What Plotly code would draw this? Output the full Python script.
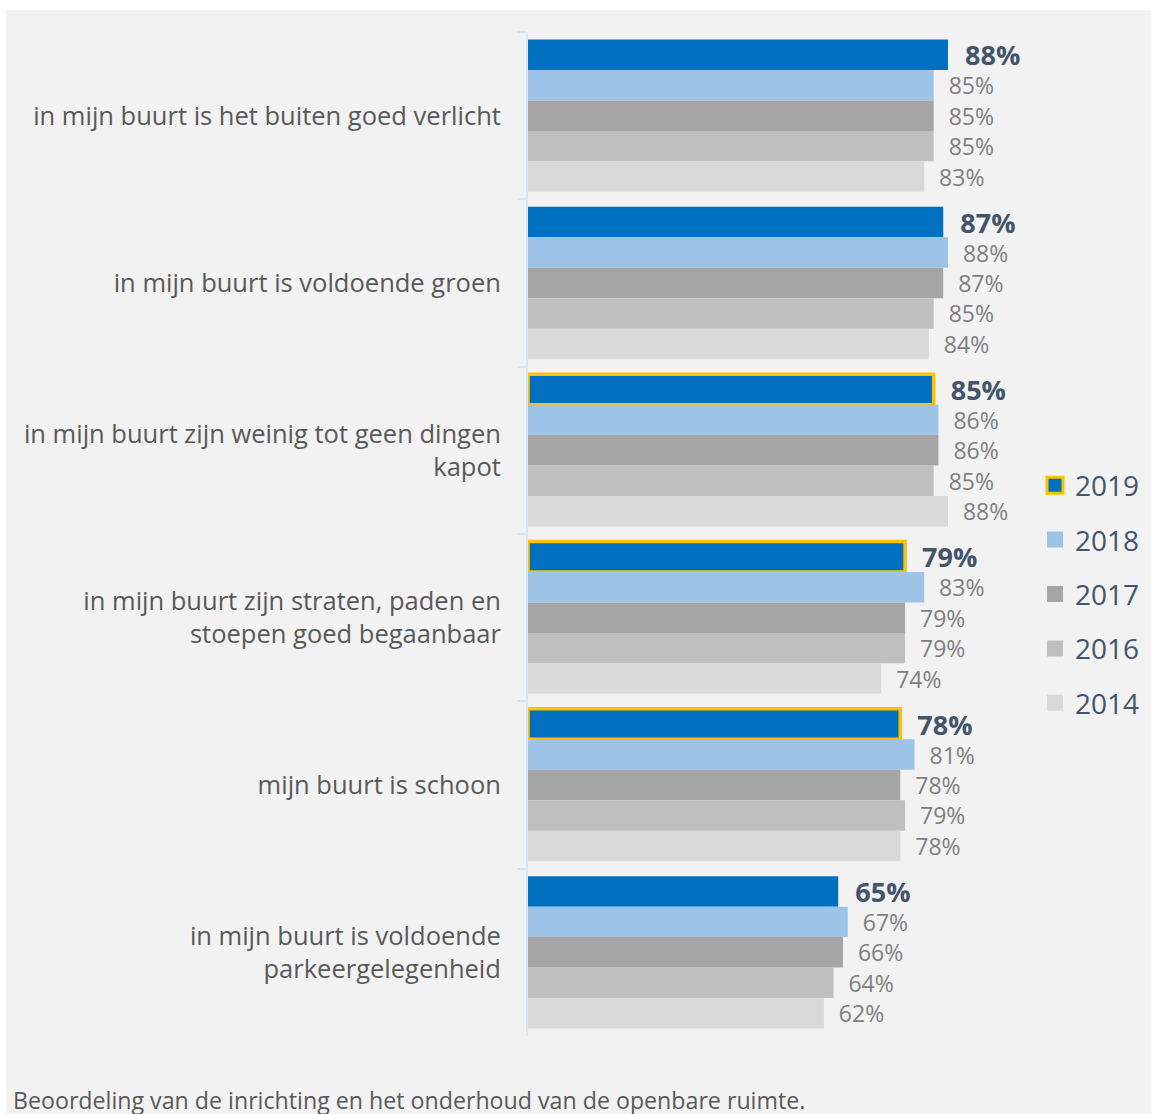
import plotly.graph_objects as go

# Data
categories = [
    "in mijn buurt is het buiten goed verlicht",
    "in mijn buurt is voldoende groen",
    "in mijn buurt zijn weinig tot geen dingen<br>kapot",
    "in mijn buurt zijn straten, paden en<br>stoepen goed begaanbaar",
    "mijn buurt is schoon",
    "in mijn buurt is voldoende<br>parkeergelegenheid",
]
years = ["2019", "2018", "2017", "2016", "2014"]
v2019 = [88, 87, 85, 79, 78, 65]
v2018 = [85, 88, 86, 83, 81, 67]
v2017 = [85, 87, 86, 79, 78, 66]
v2016 = [85, 85, 85, 79, 79, 64]
v2014 = [83, 84, 88, 74, 78, 62]
# 2019 bars that got worse (gold outline)
highlight = [False, False, True, True, True, False]

series = [v2019, v2018, v2017, v2016, v2014]
colors = ["#0070C0", "#9DC3E6", "#A5A5A5", "#BFBFBF", "#D9D9D9"]
GOLD = "#FFC000"

W, H = 1151, 1114
L, R, T, B = 528, 10, 32, 78
pw, ph = W - L - R, H - T - B
px_per_pct = 420 / 88.0
xmax = pw / px_per_pct


def px_x(p):
    return (p - L) / pw


def px_y(p):
    return (H - B - p) / ph


fig = go.Figure()

for i, (yr, vals, col) in enumerate(zip(years, series, colors)):
    if i == 0:
        line = dict(color=[GOLD if h else col for h in highlight],
                    width=[3.5 if h else 0 for h in highlight])
        tfont = dict(family="Open Sans", size=27, color="#44546A", weight="bold")
        tmpl = "\u00a0\u00a0%{x}%"
    else:
        line = dict(width=0)
        tfont = dict(family="Open Sans", size=23, color="#7F7F7F")
        tmpl = "\u00a0\u00a0%{x}%"
    fig.add_trace(go.Bar(
        y=categories, x=vals, orientation="h", name=yr,
        marker=dict(color=col, line=line),
        texttemplate=tmpl, textposition="outside", textfont=tfont,
        constraintext="none", cliponaxis=False,
        showlegend=False, hoverinfo="x+name",
    ))

# legend entries
for i, (yr, col) in enumerate(zip(years, colors)):
    mline = dict(color=GOLD, width=3) if i == 0 else dict(width=0)
    fig.add_trace(go.Scatter(
        x=[None], y=[None], mode="markers", name=yr, legendgroup=yr,
        marker=dict(symbol="square", size=16, color=col, line=mline),
    ))

fig.update_layout(
    width=W, height=H,
    margin=dict(l=L, r=R, t=T, b=B, autoexpand=False),
    paper_bgcolor="white",
    plot_bgcolor="rgba(0,0,0,0)",
    barmode="group", bargap=0.09, bargroupgap=0,
    font=dict(family="Open Sans", color="#595959"),
    xaxis=dict(visible=False, range=[0, xmax]),
    yaxis=dict(
        autorange="reversed", showgrid=False, automargin=False,
        showline=True, linecolor="#DCE3EA", linewidth=2,
        ticks="outside", tickson="boundaries", ticklen=9,
        tickcolor="#DCE3EA", tickwidth=2,
        ticklabelstandoff=20,
        tickfont=dict(family="Open Sans", size=25.5, color="#595959"),
    ),
    legend=dict(
        xref="container", yref="container",
        x=1035 / W, xanchor="left", y=1 - 594 / H, yanchor="middle",
        traceorder="grouped", tracegroupgap=15,
        font=dict(family="Open Sans", size=28, color="#44546A"),
        bgcolor="rgba(0,0,0,0)",
    ),
    shapes=[dict(
        type="rect", xref="paper", yref="paper", layer="below",
        x0=px_x(6), x1=px_x(W + 5), y0=px_y(H + 5), y1=px_y(10),
        fillcolor="#F2F2F2", line=dict(width=0),
    )],
    annotations=[dict(
        text="Beoordeling van de inrichting en het onderhoud van de openbare ruimte.",
        xref="paper", yref="paper", x=px_x(11), y=px_y(1100),
        xanchor="left", yanchor="middle", showarrow=False,
        font=dict(family="Open Sans", size=23.2, color="#595959"),
    )],
)

# page has a default 8px body margin; drop it so the figure fills the window
fig.write_html("out.html", config={"displayModeBar": False},
               post_script="document.body.style.margin='0';")
